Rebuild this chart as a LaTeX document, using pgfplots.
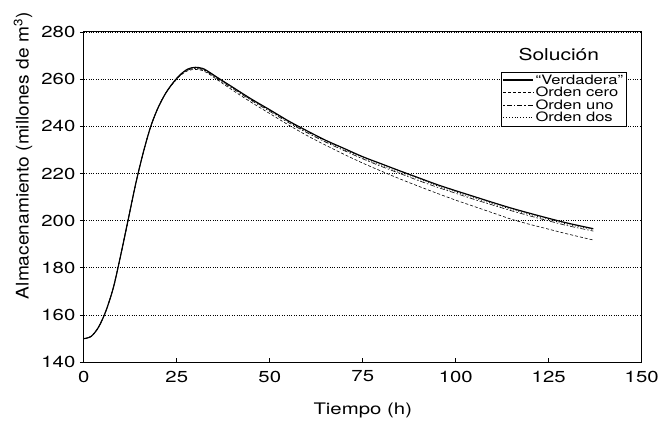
\documentclass[border=0pt]{standalone}
\usepackage{fontspec}
\setmainfont{TeX Gyre Heros}[FakeStretch=1.28]
\newfontfamily\ylabfont{TeX Gyre Heros}[FakeStretch=1.1]
\usepackage{pgfplots}
\pgfplotsset{compat=1.18}

\pgfplotstableread{
t v
0 150
2 151
4 155
6 162
8 172
10 186
12 201
14 216
16 229
18 240
20 248
22 254
24 258.5
26 262
28 264.3
30 265
32 264.5
34 262.7
36 260.6
40 256.6
45 251.6
50 247
55 242.3
60 238.1
65 234.1
70 230.6
75 227.1
80 224.1
85 221.1
90 218.2
95 215.3
100 212.7
105 210.2
110 207.7
115 205.3
120 203.1
125 201
130 199
137 196.6
}\verdadera

\pgfplotstableread{
t v
0 150
2 151
4 155
6 162
8 172
10 186
12 201
14 216
16 229
18 240
20 248
22 254
24 258.2
26 261.6
28 263.6
30 264.1
32 263.6
34 261.8
36 259.6
40 255.3
45 250.2
50 245.4
55 240.6
60 236.1
65 232
70 228.1
75 224.4
80 221
85 217.7
90 214.6
95 211.6
100 208.7
105 206
110 203.3
115 200.6
120 198.4
125 196.4
130 194.4
137 191.8
}\ordencero

\pgfplotstableread{
t v
0 150
2 151
4 155
6 162
8 172
10 186
12 201
14 216
16 229
18 240
20 248
22 254
24 258.3
26 261.8
28 263.9
30 264.5
32 264
34 262.2
36 260.1
40 256
45 251
50 246.3
55 241.6
60 237.3
65 233.3
70 229.7
75 226.2
80 223
85 220
90 217
95 214.2
100 211.6
105 209
110 206.6
115 204.2
120 202
125 199.9
130 197.9
137 195.6
}\ordenuno

\pgfplotstableread{
t v
0 150
2 151
4 155
6 162
8 172
10 186
12 201
14 216
16 229
18 240
20 248
22 254
24 258.4
26 261.9
28 264.1
30 264.7
32 264.2
34 262.4
36 260.3
40 256.3
45 251.3
50 246.7
55 242
60 237.7
65 233.7
70 230.1
75 226.7
80 223.6
85 220.6
90 217.7
95 214.8
100 212.2
105 209.6
110 207.2
115 204.8
120 202.6
125 200.5
130 198.5
137 196.2
}\ordendos

\begin{document}
\begin{tikzpicture}
\begin{axis}[
    name=ax,
    scale only axis,
    width=559bp,
    height=331bp,
    xmin=0, xmax=150,
    ymin=140, ymax=280,
    xtick distance=25,
    ytick distance=20,
    ymajorgrids=true,
    grid style={black, dotted, line width=0.8pt},
    axis line style={black, line width=0.9pt},
    xtick align=inside,
    ytick align=outside,
    tick style={black, line width=0.8pt},
    major tick length=4bp,
    xtick pos=bottom,
    ytick pos=left,
    /pgf/number format/assume math mode=true,
    tick label style={font=\fontsize{16}{18}\selectfont},
    xticklabel style={yshift=-5bp},
    yticklabel style={xshift=-1bp},
    xlabel={Tiempo (h)},
    xlabel style={font=\fontsize{16}{18}\selectfont, yshift=-14bp},
    ylabel={Almacenamiento (millones de m\textsuperscript{3})},
    ylabel style={font=\ylabfont\fontsize{17.5}{20}\selectfont,
        at={(rel axis cs:-0.109,0.625)}, anchor=center, rotate=0},
    legend style={
        at={(axis cs:146,263.1)}, anchor=north east,
        font=\fontsize{13}{13.5}\selectfont,
        draw=black, line width=0.6pt, fill=white,
        inner xsep=2bp, inner ysep=1bp,
        row sep=-1.5bp,
        cells={anchor=west},
        nodes={inner sep=1.5bp},
    },
    legend image code/.code={\draw[#1] (0bp,0bp) -- (30bp,0bp);},
]
\addplot[black, line width=1.2pt, smooth] table {\verdadera};
\addplot[black, line width=0.6pt, densely dashed, smooth] table {\ordencero};
\addplot[black, line width=0.6pt, dash pattern=on 1.5pt off 2pt on 5pt off 2pt, smooth] table {\ordenuno};
\addplot[black, line width=0.8pt, dotted, smooth] table {\ordendos};
\legend{``Verdadera'', Orden cero, Orden uno, Orden dos}
\node[font=\fontsize{16.5}{18}\selectfont] at (axis cs:127.7,270.3) {Solución};
\end{axis}
\path ([shift={(-84bp,-60bp)}]ax.south west) rectangle ([shift={(19bp,32bp)}]ax.north east);
\end{tikzpicture}
\end{document}
